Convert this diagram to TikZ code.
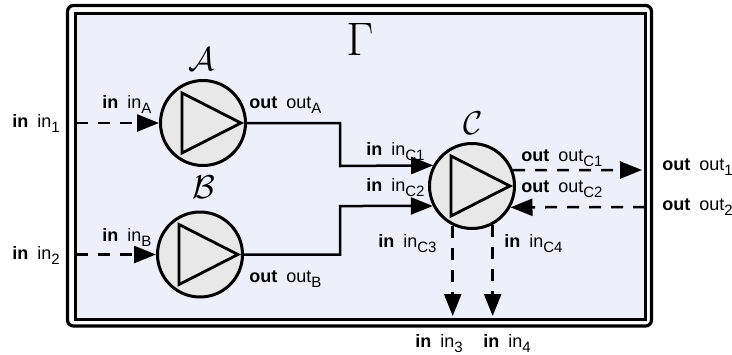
\documentclass[tikz,border=0pt]{standalone}
\usepackage{fix-cm}
\usepackage{fontspec}
\newfontfamily\hv{Liberation Sans}
\usetikzlibrary{arrows.meta}
\definecolor{boxfill}{HTML}{EDF0FA}
\definecolor{circfill}{HTML}{E8E8E8}
\newcommand{\sbs}[1]{\raisebox{-0.32em}{\fontsize{7.5}{7.5}\selectfont #1}}
\newcommand{\lbl}[3]{\textbf{#1}\hspace{0.5em}#2\sbs{#3}}
\begin{document}
\begin{tikzpicture}[x=0.5pt,y=-0.5pt,
  unit/.style={circle, draw, line width=1.5pt, fill=circfill, minimum size=42.5pt, inner sep=0pt},
  tri/.style={line width=1.4pt, line join=miter},
  conn/.style={line width=1.25pt},
  dsh/.style={conn, dash pattern=on 6pt off 5pt},
  arr/.style={-{Triangle[length=11pt,width=8.5pt]}},
  lab/.style={font=\hv\fontsize{9}{10}\selectfont, inner sep=0pt, anchor=base west},
  cal/.style={font=\fontsize{16.5}{18}\selectfont, inner sep=0pt},
]
\useasboundingbox (0,0) rectangle (732,354);
% boxes
\draw[line width=1.6pt, rounded corners=3pt, fill=white] (67.5,5.5) rectangle (651.5,326);
\draw[line width=1.8pt, fill=boxfill] (75.5,13.5) rectangle (645.5,319.5);
\node[font=\fontsize{23.5}{26}\selectfont, inner sep=0pt] (gamma) at (360,39) {$\Gamma$};
% units
\node[unit] (A) at (203,123) {};
\node[unit] (B) at (200,254.5) {};
\node[unit] (C) at (472,186) {};
\foreach \n in {A,B,C}
  \draw[tri] ([shift={(-21,-30)}]\n.center) -- ([shift={(38,0)}]\n.center) -- ([shift={(-21,30)}]\n.center) -- cycle;
\node[cal] (nA) at (202,59) {$\mathcal{A}$};
\node[cal] (nB) at (204,187) {$\mathcal{B}$};
\node[cal] (nC) at (473,123) {$\mathcal{C}$};
% coordinates
\coordinate (in1) at (75.5,123);
\coordinate (in2) at (75.5,254.5);
\coordinate (ka) at (340,123);
\coordinate (kb) at (340,166);
\coordinate (kc) at (340,254.5);
\coordinate (kd) at (340,206);
\coordinate (oc1) at (642,170);
\coordinate (o2) at (645,207);
\coordinate (in3) at (453,316);
% connectors
\draw[dsh,arr] (in1) -- (A);
\draw[dsh,arr] (in2) -- (B);
\draw[conn,arr] (A.east) -- (ka) -- (kb) -- (C.152.8);
\draw[conn,arr] (B.east) -- (kc) -- (kd) -- (C.207.2);
\draw[dsh,arr] (C.21.4) -- (oc1);
\draw[dsh,arr] (o2) -- (C.331.4);
\draw[dsh,arr] (C.244.3) -- (C.244.3 |- in3);
\draw[dsh,arr] (C.298.6) -- (C.298.6 |- in3);
% labels
\node[lab] (l-in1) at (12,127) {\lbl{in}{in}{1}};
\node[lab] (l-in2) at (12,259) {\lbl{in}{in}{2}};
\node[lab] (l-inA) at (102,108) {\lbl{in}{in}{A}};
\node[lab] (l-outA) at (249,108) {\lbl{out}{out}{A}};
\node[lab] (l-inB) at (102,241) {\lbl{in}{in}{B}};
\node[lab] (l-outB) at (249,282) {\lbl{out}{out}{B}};
\node[lab] (l-inC1) at (366,155) {\lbl{in}{in}{C1}};
\node[lab] (l-inC2) at (366,191) {\lbl{in}{in}{C2}};
\node[lab] (l-outC1) at (521,161) {\lbl{out}{out}{C1}};
\node[lab] (l-outC2) at (521,192) {\lbl{out}{out}{C2}};
\node[lab] (l-inC3) at (378,247) {\lbl{in}{in}{C3}};
\node[lab] (l-inC4) at (504,247) {\lbl{in}{in}{C4}};
\node[lab] (l-out1) at (662,170) {\lbl{out}{out}{1}};
\node[lab] (l-out2) at (662,210) {\lbl{out}{out}{2}};
\node[lab] (l-in3) at (415,347) {\lbl{in}{in}{3}};
\node[lab] (l-in4) at (483,347) {\lbl{in}{in}{4}};
\end{tikzpicture}
\end{document}
